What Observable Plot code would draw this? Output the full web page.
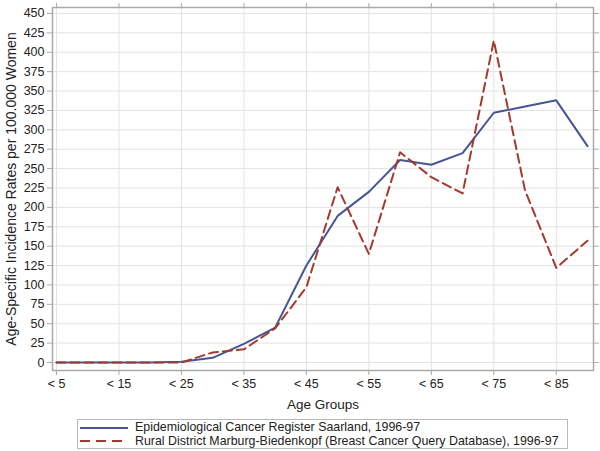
<!DOCTYPE html>
<html><head><meta charset="utf-8">
<script src="https://cdn.jsdelivr.net/npm/d3@7"></script>
<script src="https://cdn.jsdelivr.net/npm/@observablehq/plot@0.6"></script>
<style>
body{margin:0;background:#fff;font-family:"Liberation Sans",Arial,sans-serif;}
#legend{position:absolute;left:77px;top:419px;width:491px;height:30px;border:1px solid #b8b8b8;font-size:12.4px;color:#222;box-sizing:border-box;padding-top:1px;white-space:nowrap;overflow:visible;}
.row{display:flex;align-items:center;height:13.5px;line-height:13.5px;white-space:nowrap;}
.row span{white-space:nowrap;}
.row svg{margin-left:2px;margin-right:7px;flex:none;}
</style></head>
<body>
<div id="chart"></div>
<div id="legend"></div>
<script>
const ages = [5,10,15,20,25,30,35,40,45,50,55,60,65,70,75,80,85,90];
const saarland = [0,0,0,0,1,6,24,45,125,189,220,261,255,270,322,330,338,279];
const marburg = [0,0,0,0,0,13,17,44,97,226,140,271,239,218,415,222,122,157];
const tickAges = [5,15,25,35,45,55,65,75,85];
const tickLabels = ["< 5","< 15","< 25","< 35","< 45","< 55","< 65","< 75","< 85"];
const yTicks = d3.range(0,451,25);
const seriesNames = ["Epidemiological Cancer Register Saarland, 1996-97","Rural District Marburg-Biedenkopf (Breast Cancer Query Database), 1996-97"];
const colors = ["#445694","#A23A2E"];

const s1 = ages.map((a,i)=>({age:a,v:saarland[i]}));
const s2 = ages.map((a,i)=>({age:a,v:marburg[i]}));
const fmt = d => tickLabels[tickAges.indexOf(d)];
const blank = () => "";

const plot = Plot.plot({
  width:600, height:412,
  marginLeft:52, marginRight:7, marginTop:7, marginBottom:42,
  style:{fontFamily:"'Liberation Sans',Arial,sans-serif", fontSize:"12.5px", color:"#222"},
  x:{domain:[4.36,90.96]},
  y:{domain:[-10.3,457.7]},
  marks:[
    Plot.gridX(tickAges,{stroke:"#e3e3e3",strokeOpacity:1}),
    Plot.gridY(yTicks,{stroke:"#e3e3e3",strokeOpacity:1}),
    Plot.frame({stroke:"#aaa",strokeWidth:1.5}),
    Plot.axisX(tickAges,{anchor:"bottom",tickFormat:fmt,tickSize:5,tickPadding:4,stroke:"#aaa",label:"Age Groups",labelAnchor:"center",labelArrow:"none",labelOffset:38,fontSize:12.5}),
    Plot.axisX(tickAges,{anchor:"top",tickFormat:blank,tickSize:5,stroke:"#aaa",label:null}),
    Plot.axisY(yTicks,{anchor:"left",tickSize:5,tickPadding:3,stroke:"#aaa",label:"Age-Specific Incidence Rates per 100.000 Women",labelAnchor:"center",labelArrow:"none",labelOffset:46}),
    Plot.axisY(yTicks,{anchor:"right",tickFormat:blank,tickSize:5,stroke:"#aaa",label:null}),
    Plot.line(s1,{x:"age",y:"v",stroke:colors[0],strokeWidth:2}),
    Plot.line(s2,{x:"age",y:"v",stroke:colors[1],strokeWidth:2,strokeDasharray:"9,5"})
  ]
});
document.getElementById("chart").appendChild(plot);
plot.querySelectorAll("g[aria-label='x-axis label'] text").forEach(t=>t.setAttribute("font-size","13.5px"));
plot.querySelectorAll("g[aria-label='y-axis label'] text").forEach(t=>t.setAttribute("font-size","14px"));

const leg = document.getElementById("legend");
seriesNames.forEach((n,i)=>{
  const r = document.createElement("div"); r.className="row";
  r.innerHTML = `<svg width="48" height="10"><line x1="0" x2="48" y1="5" y2="5" stroke="${colors[i]}" stroke-width="2" ${i?'stroke-dasharray="10,6"':''}/></svg><span>${n}</span>`;
  leg.appendChild(r);
});
</script>
</body></html>
